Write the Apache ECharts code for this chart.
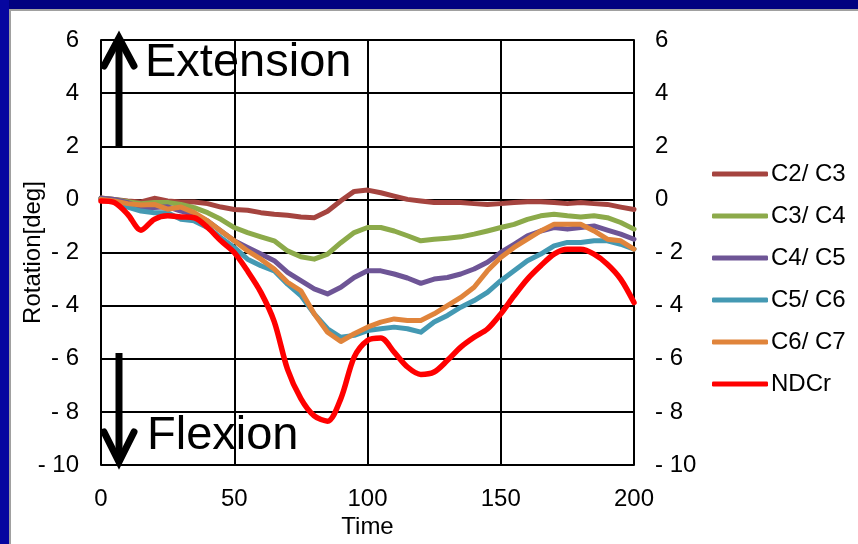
<!DOCTYPE html>
<html><head><meta charset="utf-8">
<script src="https://cdn.jsdelivr.net/npm/echarts@6/dist/echarts.min.js"></script>
<style>
html,body{margin:0;padding:0;width:858px;height:544px;overflow:hidden;background:#000080;}
#lbar{position:absolute;left:0;top:0;width:9px;height:544px;background:#0606a0}
#panel{position:absolute;left:9px;top:9px;width:849px;height:535px;background:#fff;border-left:2px solid #a0a0a0;border-top:2px solid #a0a0a0;box-sizing:border-box}
#chart{position:absolute;left:0;top:0;width:858px;height:544px}
</style></head><body>
<div id="lbar"></div><div id="panel"></div><div id="chart"></div>
<script>
const times = [0,5,10,15,20,25,30,35,40,45,50,55,60,65,70,75,80,85,90,95,100,105,110,115,120,125,130,135,140,145,150,155,160,165,170,175,180,185,190,195,200];
const seriesNames = ['C2/ C3','C3/ C4','C4/ C5','C5/ C6','C6/ C7','NDCr'];
const c2c3 = [0.05,0,-0.06,-0.1,0.04,-0.06,-0.1,-0.1,-0.16,-0.29,-0.38,-0.41,-0.5,-0.56,-0.6,-0.66,-0.69,-0.45,-0.05,0.3,0.35,
  0.25,0.12,0,-0.06,-0.12,-0.12,-0.12,-0.16,-0.19,-0.16,-0.12,-0.09,-0.09,-0.12,-0.16,-0.12,-0.16,-0.19,-0.29,-0.38];
const c3c4 = [0.04,0,-0.09,-0.16,-0.12,-0.12,-0.19,-0.31,-0.5,-0.75,-1.06,-1.25,-1.41,-1.56,-1.94,-2.16,-2.25,-2.06,-1.63,-1.25,-1.06,
  -1.06,-1.19,-1.37,-1.56,-1.5,-1.46,-1.41,-1.31,-1.19,-1.06,-0.94,-0.75,-0.62,-0.56,-0.62,-0.66,-0.62,-0.69,-0.87,-1.12];
const c4c5 = [0.04,0,-0.12,-0.31,-0.31,-0.28,-0.44,-0.56,-0.81,-1.19,-1.56,-1.81,-2.06,-2.31,-2.75,-3.06,-3.37,-3.56,-3.31,-2.94,-2.69,
  -2.69,-2.81,-2.96,-3.16,-3.0,-2.94,-2.81,-2.62,-2.37,-2.0,-1.69,-1.37,-1.19,-1.06,-1.12,-1.06,-1.0,-1.16,-1.31,-1.5];
const c5c6 = [0,-0.09,-0.29,-0.44,-0.5,-0.5,-0.75,-0.81,-1.06,-1.44,-1.81,-2.25,-2.5,-2.69,-3.19,-3.62,-4.31,-4.87,-5.19,-5.12,-4.94,
  -4.87,-4.81,-4.87,-5.0,-4.62,-4.37,-4.06,-3.81,-3.5,-3.06,-2.69,-2.31,-2.06,-1.75,-1.62,-1.62,-1.56,-1.56,-1.69,-1.87];
const c6c7 = [0,-0.06,-0.16,-0.21,-0.19,-0.37,-0.29,-0.5,-0.81,-1.19,-1.56,-1.94,-2.25,-2.62,-3.12,-3.44,-4.31,-5.0,-5.35,-5.06,-4.81,
  -4.62,-4.5,-4.56,-4.56,-4.31,-4.0,-3.69,-3.31,-2.69,-2.19,-1.81,-1.5,-1.19,-0.94,-0.94,-0.94,-1.19,-1.5,-1.56,-1.87];
const ndcr = [-0.06,-0.12,-0.56,-1.16,-0.75,-0.62,-0.66,-0.69,-1.06,-1.56,-2.0,-2.7,-3.5,-4.6,-6.4,-7.5,-8.15,-8.35,-7.5,-5.94,-5.31,
  -5.22,-5.75,-6.31,-6.59,-6.5,-6.06,-5.56,-5.19,-4.88,-4.31,-3.63,-3.0,-2.5,-2.06,-1.88,-1.88,-2.06,-2.44,-3.0,-3.88];
const colors = ['#A5443F','#8CAA4A','#6E5596','#4499B3','#E0843B','#FF0000'];
const xTicks = [0,50,100,150,200];
const yTicks = [-10,-8,-6,-4,-2,0,2,4,6];

const allVals = [c2c3,c3c4,c4c5,c5c6,c6c7,ndcr];
const FONT = "'Liberation Sans', Arial, sans-serif";
const fmtY = v => v < 0 ? '- ' + Math.abs(v) : String(v);

const chart = echarts.init(document.getElementById('chart'), null, {renderer:'canvas'});
const series = allVals.map((vals, i) => ({
  name: seriesNames[i],
  type: 'line',
  data: times.map((t, k) => [t, vals[k]]),
  showSymbol: false,
  symbol: 'none',
  smooth: i === 5 ? 0.3 : false,
  lineStyle: {color: colors[i], width: i === 5 ? 5.5 : 5, cap:'round', join:'round'},
  itemStyle: {color: colors[i]},
  z: 3 + i,
  animation: false
}));

const axisText = {color:'#000', fontSize:24, fontFamily:FONT};
chart.setOption({
  backgroundColor: 'transparent',
  animation: false,
  grid: {left:101, right:224, top:40, bottom:79, containLabel:false, outerBoundsMode:'none'},
  xAxis: {
    type:'value', min:0, max:200, interval:50,
    name:'Time', nameLocation:'middle', nameGap:50, nameMoveOverlap:false, nameTextStyle:axisText,
    axisLine:{show:true, lineStyle:{color:'#000', width:2}},
    axisTick:{show:false},
    axisLabel:{...axisText, margin:22},
    splitLine:{show:true, lineStyle:{color:'#000', width:2}}
  },
  yAxis: [{
    type:'value', min:-10, max:6, interval:2,
    name:'Rotation[deg]', nameLocation:'middle', nameGap:56, nameMoveOverlap:false, nameTextStyle:axisText,
    axisLine:{show:true, lineStyle:{color:'#000', width:2}},
    axisTick:{show:false},
    axisLabel:{...axisText, margin:22, formatter:fmtY},
    splitLine:{show:true, lineStyle:{color:'#000', width:2}}
  },{
    type:'value', min:-10, max:6, interval:2, position:'right',
    axisLine:{show:true, lineStyle:{color:'#000', width:2}},
    axisTick:{show:false},
    axisLabel:{...axisText, margin:21, formatter:fmtY},
    splitLine:{show:false}
  }],
  legend: {
    orient:'vertical', left:707, top:157,
    itemWidth:56, itemHeight:5, icon:'roundRect', itemGap:18,
    textStyle:{color:'#000', fontSize:24, fontFamily:FONT, padding:[0,0,0,-2]},
    data: seriesNames
  },
  graphic: [
    {type:'line', shape:{x1:119, y1:147, x2:119, y2:40}, style:{stroke:'#000', lineWidth:7}, z:20},
    {type:'polyline', shape:{points:[[104,66],[119,38],[134,66]]}, style:{stroke:'#000', lineWidth:7, lineCap:'round', lineJoin:'miter', fill:null}, z:20},
    {type:'line', shape:{x1:119, y1:353, x2:119, y2:460}, style:{stroke:'#000', lineWidth:7}, z:20},
    {type:'polyline', shape:{points:[[104,432],[119,462],[134,432]]}, style:{stroke:'#000', lineWidth:7, lineCap:'round', lineJoin:'miter', fill:null}, z:20},
    {type:'text', left:145, top:40, style:{text:'Extension', fontSize:47, fontFamily:FONT, fill:'#000'}, z:20},
    {type:'text', left:147, top:413, style:{text:'Flexion', fontSize:47, fontFamily:FONT, fill:'#000'}, z:20}
  ],
  series: series
});
</script>
</body></html>
